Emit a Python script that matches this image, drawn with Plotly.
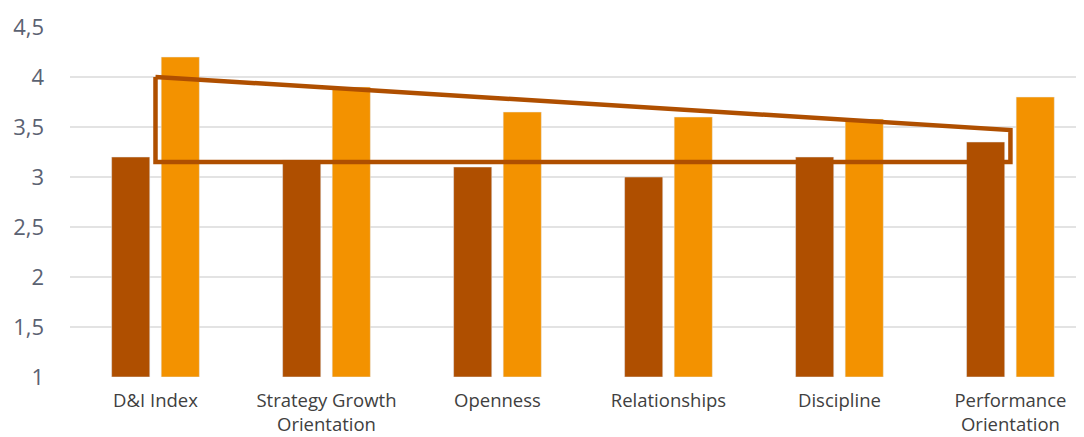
import plotly.graph_objects as go

categories = ["D&I Index", "Strategy Growth<br>Orientation", "Openness",
              "Relationships", "Discipline", "Performance<br>Orientation"]
series_a = [3.2, 3.17, 3.1, 3.0, 3.2, 3.35]
series_b = [4.2, 3.9, 3.65, 3.6, 3.58, 3.8]
y_ticks = [1, 1.5, 2, 2.5, 3, 3.5, 4, 4.5]

# highlight outline (category index, value)
outline_x = [0, 5, 5, 0, 0]
outline_y = [4.0, 3.47, 3.15, 3.15, 4.0]

dark = "#AF4F00"
orange = "#F39200"

fig = go.Figure()
fig.add_trace(go.Bar(x=list(range(len(categories))), y=[v - 1 for v in series_a], base=1,
                     marker_color=dark, showlegend=False, hoverinfo="skip"))
fig.add_trace(go.Bar(x=list(range(len(categories))), y=[v - 1 for v in series_b], base=1,
                     marker_color=orange, showlegend=False, hoverinfo="skip"))
fig.add_trace(go.Scatter(x=outline_x, y=outline_y, mode="lines",
                         line=dict(color=dark, width=4.5), showlegend=False,
                         hoverinfo="skip"))

fig.update_layout(
    width=1084, height=437,
    margin=dict(l=62, r=0, t=19, b=68),
    paper_bgcolor="white", plot_bgcolor="white",
    barmode="group", bargap=0.42, bargroupgap=0.23,
    separators=",.",
    font=dict(family="Open Sans, sans-serif", color="#404040"),
    xaxis=dict(range=[-0.5, 5.477], tickmode="array",
               tickvals=list(range(len(categories))), ticktext=categories,
               showgrid=False, zeroline=False, showline=False,
               tickfont=dict(size=18.5, color="#404040"), ticks="",
               ticklabelstandoff=10),
    yaxis=dict(range=[1, 4.5], tickmode="array", tickvals=y_ticks,
               showgrid=True, gridcolor="#E3E3E3", gridwidth=1.5,
               zeroline=False, showline=False,
               tickfont=dict(size=22, color="#5B6272"),
               ticklabelstandoff=25),
)

fig.write_html("out.html")
